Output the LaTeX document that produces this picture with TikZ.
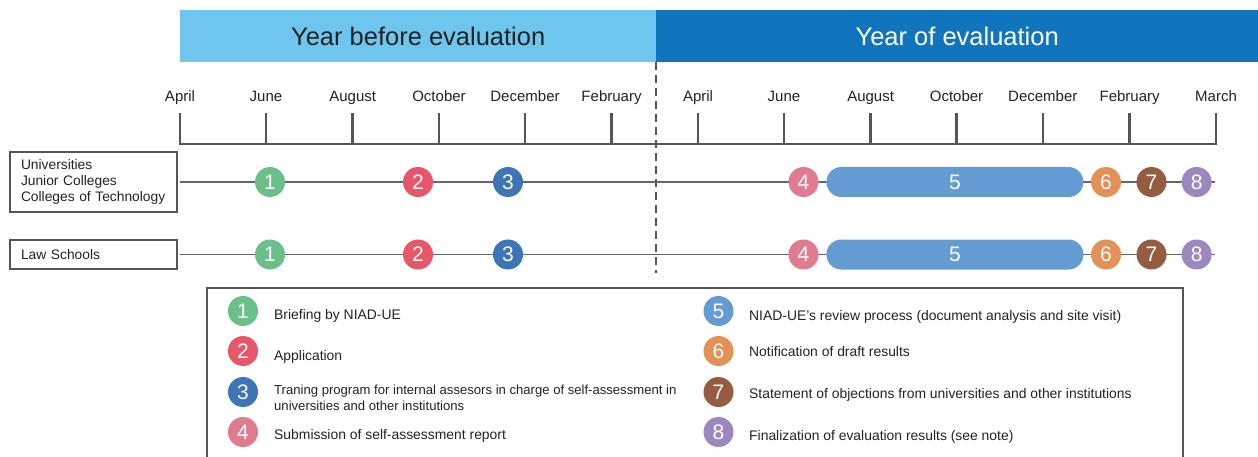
\documentclass[tikz,border=0pt]{standalone}
\usepackage{fontspec}
\setmainfont{Liberation Sans}
\definecolor{bandlight}{HTML}{6EC6EE}
\definecolor{banddark}{HTML}{1175BD}
\definecolor{cA}{HTML}{6BBF8A}
\definecolor{cB}{HTML}{E8566A}
\definecolor{cC}{HTML}{3E75B5}
\definecolor{cD}{HTML}{E07B92}
\definecolor{cE}{HTML}{659BD3}
\definecolor{cF}{HTML}{E39157}
\definecolor{cG}{HTML}{955C3F}
\definecolor{cH}{HTML}{9D87C0}
\definecolor{linegray}{HTML}{555555}
\definecolor{txt}{HTML}{222222}
\begin{document}
\begin{tikzpicture}[x=1pt,y=-1pt,
  every node/.style={inner sep=0pt, text=txt},
  num/.style={circle, minimum size=30pt, text=white, font=\fontsize{21}{21}\selectfont},
  month/.style={anchor=base, font=\fontsize{15}{16}\selectfont},
  tickline/.style={line width=2.6pt, draw=linegray},
  rowline/.style={line width=1.6pt, draw=linegray!90},
  labbox/.style={draw=linegray, line width=1.6pt, minimum width=167pt, text width=145pt, inner xsep=11pt, align=left, font=\fontsize{13.8}{16}\selectfont},
  legtext/.style={anchor=base west, align=left, font=\fontsize{13.9}{16}\selectfont},
  band/.style={anchor=north west, minimum height=52pt, font=\fontsize{25.5}{27}\selectfont}
]
\useasboundingbox (0,0) rectangle (1258,457);

% bands
\node[band, fill=bandlight, minimum width=476pt] (yb) at (180,10) {Year before evaluation};
\node[band, fill=banddark, minimum width=602pt, text=white] (yo) at (656,10) {Year of evaluation};

% months and ticks
\foreach \x/\m [count=\i] in {180/April,266/June,352.7/August,439/October,525/December,611.5/February,
  698/April,784/June,870.6/August,956.5/October,1042.8/December,1129.6/February,1216/March}{
  \node[month] (m\i) at (\x,102) {\m};
  \coordinate (t\i) at (\x,113);
  \coordinate (b\i) at (\x,144);
  \draw[tickline] (t\i) -- (b\i);
}
\draw[tickline, line cap=rect] (b1) -- (b13);

% dashed divider
\coordinate (d1) at (656,62);
\coordinate (d2) at (656,273);
\draw[line width=2.6pt, draw=linegray, dash pattern=on 8pt off 5pt] (d1) -- (d2);

% row labels
\node[labbox, minimum height=60pt] (r1) at (93.5,182) {Universities\\Junior Colleges\\Colleges of Technology};
\node[labbox, minimum height=29pt] (r2) at (93.5,254.5) {Law Schools};

% rows
\foreach \y/\r in {182/a,254.5/b}{
  \coordinate (s\r) at (180,\y);
  \coordinate (e\r) at (1215,\y);
  \draw[rowline] (s\r) -- (e\r);
  \node[num, fill=cA] (n1\r) at (270,\y) {1};
  \node[num, fill=cB] (n2\r) at (418,\y) {2};
  \node[num, fill=cC] (n3\r) at (508,\y) {3};
  \node[num, fill=cD] (n4\r) at (803.5,\y) {4};
  \node[num, fill=cE, rectangle, rounded corners=15pt, minimum width=257pt, minimum height=30pt] (n5\r) at (954.9,\y) {5};
  \node[num, fill=cF] (n6\r) at (1106,\y) {6};
  \node[num, fill=cG] (n7\r) at (1151.5,\y) {7};
  \node[num, fill=cH] (n8\r) at (1196.6,\y) {8};
}

% legend
\node[draw=linegray, line width=1.6pt, anchor=north west, minimum width=976pt, minimum height=190pt] (leg) at (206,287) {};
\node[num, fill=cA] (l1) at (243,311) {1};
\node[num, fill=cB] (l2) at (243,351) {2};
\node[num, fill=cC] (l3) at (243,392) {3};
\node[num, fill=cD] (l4) at (243,432) {4};
\node[num, fill=cE] (l5) at (718.5,311) {5};
\node[num, fill=cF] (l6) at (718.5,351) {6};
\node[num, fill=cG] (l7) at (718.5,392) {7};
\node[num, fill=cH] (l8) at (718.5,432) {8};
\node[legtext] (x1) at (274,319.3) {Briefing by NIAD-UE};
\node[legtext] (x2) at (274,360) {Application};
\node[legtext, anchor=west, font=\fontsize{13.1}{16}\selectfont] (x3) at (274,397.5) {Traning program for internal assesors in charge of self-assessment in\\universities and other institutions};
\node[legtext] (x4) at (274,439.3) {Submission of self-assessment report};
\node[legtext] (x5) at (749,320.7) {NIAD-UE's review process (document analysis and site visit)};
\node[legtext] (x6) at (749,356) {Notification of draft results};
\node[legtext] (x7) at (749,398.3) {Statement of objections from universities and other institutions};
\node[legtext] (x8) at (749,440.7) {Finalization of evaluation results (see note)};
\end{tikzpicture}
\end{document}
